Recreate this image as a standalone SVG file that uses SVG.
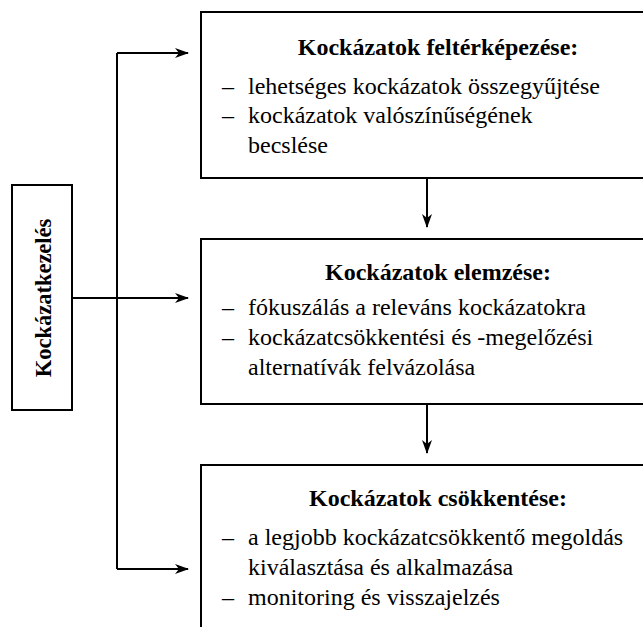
<svg xmlns="http://www.w3.org/2000/svg" width="643" height="627" viewBox="0 0 643 627">
<style>
.box{fill:#fff;stroke:#000;stroke-width:2}
.ln{fill:none;stroke:#000;stroke-width:2}
.t{font-family:'Liberation Serif','Times New Roman',serif;font-size:24px;fill:#000}
.b{font-weight:bold}
.v{font-size:22.5px}
</style>
<defs>
<marker id="ah" markerWidth="14" markerHeight="10" refX="13" refY="5" orient="auto" markerUnits="userSpaceOnUse">
<path d="M0,0 L14,5 L0,10 L4,5 Z" fill="#000"/>
</marker>
</defs>
<rect width="643" height="627" fill="#fff"/>
<g id="connectors">
<path class="ln" d="M72,298 H117 M117,53 V569"/>
<path class="ln" d="M117,53 H188" marker-end="url(#ah)"/>
<path class="ln" d="M117,298 H188" marker-end="url(#ah)"/>
<path class="ln" d="M117,569 H188" marker-end="url(#ah)"/>
<path class="ln" d="M427,178 V227" marker-end="url(#ah)"/>
<path class="ln" d="M427,404 V453" marker-end="url(#ah)"/>
</g>
<g id="n0">
<rect class="box" x="12" y="185" width="60" height="225"/>
<text class="t b v" transform="translate(51,298) rotate(-90)" text-anchor="middle">Kockázatkezelés</text>
</g>
<g id="n1">
<rect class="box" x="201" y="12" width="460" height="166"/>
<text class="t b" x="438" y="55" text-anchor="middle">Kockázatok feltérképezése:</text>
<text class="t" x="222" y="94">–</text><text class="t" x="248" y="94">lehetséges kockázatok összegyűjtése</text>
<text class="t" x="222" y="123">–</text><text class="t" x="248" y="123">kockázatok valószínűségének</text>
<text class="t" x="248" y="153">becslése</text>
</g>
<g id="n2">
<rect class="box" x="201" y="239" width="460" height="165"/>
<text class="t b" x="438" y="280" text-anchor="middle">Kockázatok elemzése:</text>
<text class="t" x="222" y="315">–</text><text class="t" x="248" y="315">fókuszálás a releváns kockázatokra</text>
<text class="t" x="222" y="345">–</text><text class="t" x="248" y="345">kockázatcsökkentési és -megelőzési</text>
<text class="t" x="248" y="375">alternatívák felvázolása</text>
</g>
<g id="n3">
<rect class="box" x="201" y="465" width="460" height="200"/>
<text class="t b" x="438" y="506" text-anchor="middle">Kockázatok csökkentése:</text>
<text class="t" x="222" y="545">–</text><text class="t" x="248" y="545">a legjobb kockázatcsökkentő megoldás</text>
<text class="t" x="248" y="575">kiválasztása és alkalmazása</text>
<text class="t" x="222" y="605">–</text><text class="t" x="248" y="605">monitoring és visszajelzés</text>
</g>
</svg>
